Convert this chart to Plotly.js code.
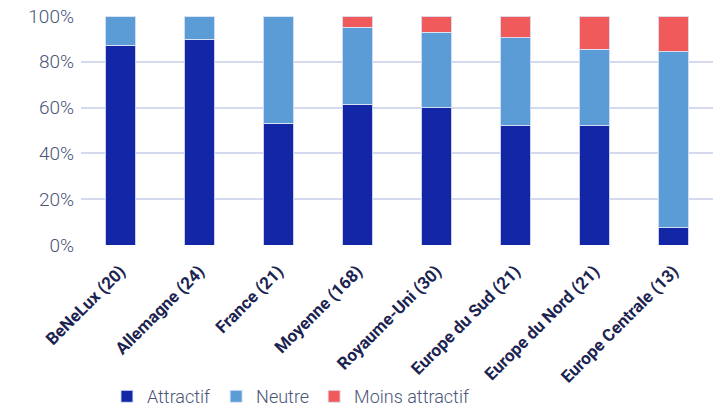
<!DOCTYPE html>
<html><head><meta charset="utf-8">
<script src="https://cdn.plot.ly/plotly-3.0.1.min.js"></script>
<style>html,body{margin:0;padding:0;background:#fff;}#chart{width:713px;height:408px;}</style>
</head><body><div id="chart"></div>
<script>
const categories = ["BeNeLux (20)","Allemagne (24)","France (21)","Moyenne (168)","Royaume-Uni (30)","Europe du Sud (21)","Europe du Nord (21)","Europe Centrale (13)"];
const attractif = [87.2, 89.8, 53.2, 61.5, 59.9, 52.0, 52.0, 7.6];
const neutre = [12.8, 10.2, 46.8, 33.6, 32.9, 38.4, 33.5, 76.7];
const moinsAttractif = [0, 0, 0, 4.9, 7.2, 9.6, 14.5, 15.7];
const yTickVals = [0, 20, 40, 60, 80, 100];
const yTickText = ["0%", "20%", "40%", "60%", "80%", "100%"];

const fontMain = 'Roboto, sans-serif';
const mk = (name, y, color) => ({
  type: 'bar', name, x: categories, y,
  marker: {color, line: {color: 'rgba(220,228,245,0.9)', width: 1}},
  hoverinfo: 'skip'
});
const data = [
  mk('Attractif', attractif, '#1226a6'),
  mk('Neutre', neutre, '#5b9bd6'),
  mk('Moins attractif', moinsAttractif, '#f05a5b')
];
const layout = {
  width: 713, height: 408,
  margin: {l: 81, r: 0, t: 16, b: 163},
  barmode: 'stack', bargap: 0.61,
  paper_bgcolor: '#fff', plot_bgcolor: '#fff',
  showlegend: true,
  legend: {orientation: 'h', traceorder: 'normal', xref: 'container', yref: 'container',
           x: 0.15, xanchor: 'left', y: 0.028, yanchor: 'middle',
           font: {family: fontMain, size: 18, color: '#4a5578', weight: 300}, itemwidth: 30, tracegroupgap: 0},
  xaxis: {tickangle: -45, showgrid: false, zeroline: false, showline: false, ticks: '', automargin: false,
          ticklabelstandoff: 12,
          tickfont: {family: fontMain, size: 17, color: '#1b2350', weight: 'bold'}},
  yaxis: {range: [0, 100], tickvals: yTickVals, ticktext: yTickText, showgrid: true, automargin: false,
          gridcolor: '#d5d9ef', gridwidth: 2, zeroline: false, showline: false, ticks: '',
          ticklabelstandoff: 6,
          tickfont: {family: fontMain, size: 19, color: '#4a5578', weight: 300}}
};
Plotly.newPlot('chart', data, layout, {staticPlot: true});
</script></body></html>
